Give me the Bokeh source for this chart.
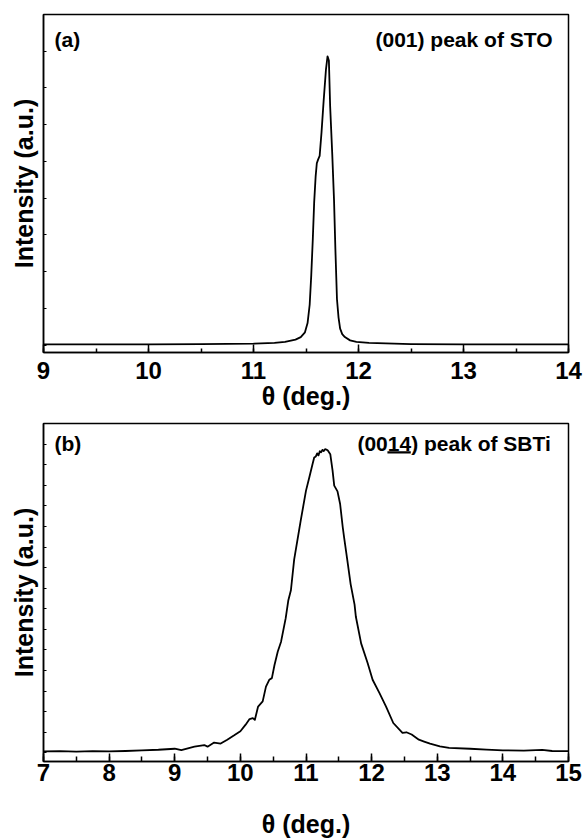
from bokeh.plotting import figure
from bokeh.layouts import column
from bokeh.models import SingleIntervalTicker, Range1d, CustomJSTickFormatter
from bokeh.core.properties import value
from bokeh.embed import file_html
from bokeh.resources import INLINE

# ---------------- data ----------------
# (a) (001) peak of STO
theta_a = [9.0, 9.5, 10.0, 10.5, 11.0, 11.2, 11.3, 11.4, 11.45, 11.49, 11.515, 11.535,
           11.55, 11.565, 11.578, 11.592, 11.603, 11.615, 11.63, 11.648, 11.668, 11.69,
           11.705, 11.718, 11.73, 11.75, 11.767, 11.78, 11.795, 11.81, 11.825, 11.845,
           11.87, 11.92, 11.98, 12.1, 12.5, 13.0, 13.5, 14.0]
intensity_a = [0.02, 0.02, 0.02, 0.03, 0.04, 0.06, 0.09, 0.15, 0.22, 0.35, 0.6, 1.1,
               1.9, 2.9, 3.9, 4.6, 4.95, 5.05, 5.15, 5.8, 6.65, 7.5,
               7.86, 7.75, 6.5, 5.2, 3.94, 2.6, 1.25, 0.75, 0.45, 0.3,
               0.22, 0.13, 0.09, 0.06, 0.03, 0.02, 0.02, 0.02]

# (b) (0014) peak of SBTi
theta_b = [7.0, 7.25, 7.5, 7.75, 8.0, 8.25, 8.5, 8.75, 9.0, 9.1, 9.3, 9.45, 9.5, 9.6,
           9.7, 9.8, 9.9, 10.0, 10.08, 10.14, 10.19, 10.22, 10.27, 10.34, 10.39, 10.44,
           10.48, 10.52, 10.57, 10.62, 10.69, 10.73, 10.77, 10.82, 10.92, 11.0, 11.05,
           11.1, 11.125, 11.15, 11.17, 11.19, 11.21, 11.23, 11.25, 11.27, 11.29, 11.31,
           11.33, 11.37, 11.405, 11.43, 11.48, 11.52, 11.56, 11.58, 11.63, 11.68, 11.74,
           11.76, 11.84, 11.94, 12.015, 12.12, 12.22, 12.33, 12.47, 12.53, 12.61, 12.72,
           12.8, 12.89, 13.04, 13.18, 13.5, 13.75, 14.0, 14.32, 14.6, 14.75, 15.0]
intensity_b = [0.07, 0.08, 0.06, 0.08, 0.07, 0.09, 0.12, 0.15, 0.2, 0.13, 0.3, 0.38, 0.3, 0.5,
               0.45, 0.64, 0.84, 1.05, 1.37, 1.64, 1.69, 1.6, 2.25, 2.5, 3.22, 3.55,
               3.63, 4.27, 4.92, 5.4, 6.53, 7.4, 7.9, 9.4, 11.29, 12.74, 13.38,
               14.03, 14.35, 14.4, 14.55, 14.45, 14.65, 14.6, 14.72, 14.66, 14.75, 14.73,
               14.7, 14.51, 13.71, 12.98, 12.7, 12.09, 10.96, 10.48, 9.35, 8.2, 7.2,
               6.61, 5.32, 4.35, 3.55, 2.9, 2.25, 1.45, 0.97, 1.0, 0.89, 0.64,
               0.55, 0.45, 0.32, 0.24, 0.2, 0.16, 0.12, 0.11, 0.14, 0.09, 0.08]

x_range_a = (9, 14)
y_range_a = (-0.2, 9.0)
x_range_b = (7, 15)
y_range_b = (-0.42, 16.0)

panel_a = "(a)"
note_a = "(001) peak of STO"
panel_b = "(b)"
note_b = "(0014) peak of SBTi"
x_title = "θ (deg.)"
y_title = "Intensity (a.u.)"

FONT = "Liberation Sans"
W = 585
BL, BR = 43, 17
FRAME_W = W - BL - BR
NOTE_PX = 21


def make_fig(xr, yr, height, top, bottom, minor_in, label_standoff, title_standoff):
    p = figure(width=W, height=height, x_range=Range1d(*xr), y_range=Range1d(*yr),
               output_backend="svg", toolbar_location=None,
               min_border_left=BL, min_border_right=BR,
               min_border_top=top, min_border_bottom=bottom)
    p.xgrid.visible = False
    p.ygrid.visible = False
    p.outline_line_color = "black"
    p.outline_line_width = 1.5
    p.outline_line_alpha = 1.0
    p.background_fill_color = "white"
    p.border_fill_color = "white"

    xa = p.xaxis[0]
    xa.ticker = SingleIntervalTicker(interval=1, num_minor_ticks=2)
    xa.axis_line_width = 1.5
    xa.major_tick_in = 8
    xa.major_tick_out = 0
    xa.major_tick_line_width = 1.5
    xa.minor_tick_in = minor_in
    xa.minor_tick_out = 0
    xa.minor_tick_line_width = 1.5
    xa.major_label_text_font = FONT
    xa.major_label_text_font_style = "bold"
    xa.major_label_text_font_size = "24px"
    xa.major_label_text_color = "black"
    xa.major_label_standoff = label_standoff
    xa.axis_label = x_title
    xa.axis_label_text_font = FONT
    xa.axis_label_text_font_style = "bold"
    xa.axis_label_text_font_size = "25px"
    xa.axis_label_text_color = "black"
    xa.axis_label_standoff = title_standoff

    ya = p.yaxis[0]
    ya.ticker = SingleIntervalTicker(interval=1, num_minor_ticks=0)
    ya.axis_line_width = 1.5
    ya.major_tick_in = 3
    ya.major_tick_out = 0
    ya.major_tick_line_width = 1
    ya.minor_tick_line_color = None
    ya.formatter = CustomJSTickFormatter(code="return ''")
    ya.major_label_standoff = 0
    ya.axis_label = y_title
    ya.axis_label_text_font = FONT
    ya.axis_label_text_font_style = "bold"
    ya.axis_label_text_font_size = "25px"
    ya.axis_label_text_color = "black"
    ya.axis_label_standoff = 6
    return p


def add_text(p, x, y, txt, align):
    p.text(x=[x], y=[y], text=[txt], text_font=value(FONT), text_font_style="bold",
           text_font_size=f"{NOTE_PX}px", text_color="black",
           text_align=align, text_baseline="middle")


# ---------------- panel (a) ----------------
HA, TOP_A, BOT_A = 415, 14, 63
pa = make_fig(x_range_a, y_range_a, HA, TOP_A, BOT_A, 4, 9, 0)
pa.line(theta_a, intensity_a, line_width=1.8, color="black", line_join="round")
fh_a = HA - TOP_A - BOT_A
ppu_ya = fh_a / (y_range_a[1] - y_range_a[0])
ppu_xa = FRAME_W / (x_range_a[1] - x_range_a[0])
ya_text = y_range_a[1] - 25 / ppu_ya
add_text(pa, x_range_a[0] + 11 / ppu_xa, ya_text, panel_a, "left")
add_text(pa, x_range_a[1] - 16 / ppu_xa, ya_text, note_a, "right")

# ---------------- panel (b) ----------------
HB, TOP_B, BOT_B = 425, 8, 78
pb = make_fig(x_range_b, y_range_b, HB, TOP_B, BOT_B, 5, 2, 26)
pb.line(theta_b, intensity_b, line_width=1.8, color="black", line_join="round")
fh_b = HB - TOP_B - BOT_B
ppu_yb = fh_b / (y_range_b[1] - y_range_b[0])
ppu_xb = FRAME_W / (x_range_b[1] - x_range_b[0])
yb_text = y_range_b[1] - 20 / ppu_yb
xb_right = x_range_b[1] - 17.7 / ppu_xb
add_text(pb, x_range_b[0] + 11 / ppu_xb, yb_text, panel_b, "left")
add_text(pb, xb_right, yb_text, note_b, "right")
# underline under "14" (Arial-metric widths: ") peak of SBTi" = 6.668 em, "14" = 1.112 em)
u_x1 = xb_right - (6.668 * NOTE_PX) / ppu_xb
u_x0 = u_x1 - (1.112 * NOTE_PX) / ppu_xb
u_y = yb_text - 9.0 / ppu_yb
pb.segment(x0=[u_x0], y0=[u_y], x1=[u_x1], y1=[u_y], line_width=2.2, color="black")

layout = column(pa, pb, spacing=0)
open("out.html", "w").write(file_html(layout, INLINE))
